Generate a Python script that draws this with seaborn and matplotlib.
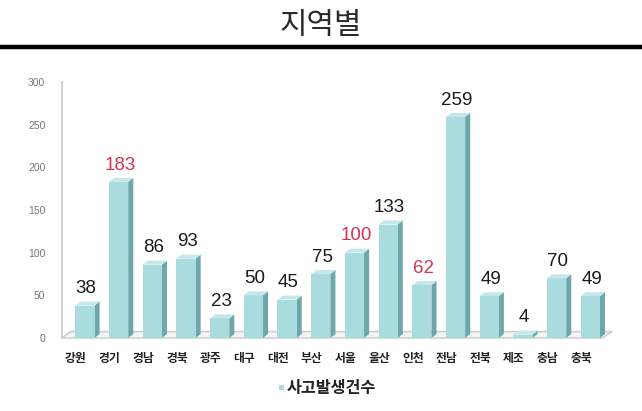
import matplotlib
matplotlib.use("Agg")
import matplotlib.pyplot as plt
import seaborn as sns
import pandas as pd
from matplotlib.patches import Polygon, Rectangle
from matplotlib.lines import Line2D

regions = ["강원", "경기", "경남", "경북", "광주", "대구", "대전", "부산",
           "서울", "울산", "인천", "전남", "전북", "제조", "충남", "충북"]
counts = [38, 183, 86, 93, 23, 50, 45, 75, 100, 133, 62, 259, 49, 4, 70, 49]
highlight = ["경기", "서울", "인천"]
yticks = [0, 50, 100, 150, 200, 250, 300]
series_name = "사고발생건수"
title = "지역별"

sns.set_theme(style="white")
plt.rcParams['font.family'] = ['Noto Sans CJK KR', 'DejaVu Sans']

df = pd.DataFrame({"region": regions, "count": counts})

fig = plt.figure(figsize=(6.42, 4.11), dpi=100)
ax = fig.add_axes([0.0966, 0.1776, 0.857, 0.6229])

front = "#a9dbdf"
side = "#6ea7ab"
top = "#c4e8ea"

sns.barplot(data=df, x="region", y="count", color=front, width=0.57,
            saturation=1, ax=ax, zorder=3, edgecolor="none")

ax.set_ylim(0, 300)
ax.set_xlim(-0.68, 15.65)

dx = 0.15
dy = 4.7
for p in list(ax.patches):
    x, w, h = p.get_x(), p.get_width(), p.get_height()
    ax.add_patch(Polygon([(x + w, 0), (x + w + dx, dy), (x + w + dx, h + dy), (x + w, h)],
                         closed=True, facecolor=side, edgecolor="none", zorder=2.9))
    ax.add_patch(Polygon([(x, h), (x + w, h), (x + w + dx, h + dy), (x + dx, h + dy)],
                         closed=True, facecolor=top, edgecolor="none", zorder=3.1))

# floor
x0, x1 = ax.get_xlim()
ax.add_patch(Polygon([(x0, 0), (15.35, 0), (15.65, 7.5), (x0 + 0.25, 7.5)],
                     closed=True, facecolor="#f2f4f4", edgecolor="#c8cccc", lw=1.0,
                     zorder=1, clip_on=False))

# value labels
for i, (r, v) in enumerate(zip(regions, counts)):
    c = "#d2364f" if r in highlight else "#1a1a1a"
    ax.text(i + 0.04, v + dy + 5, str(v), ha="center", va="bottom", fontsize=13.5,
            color=c, family=['Liberation Sans', 'DejaVu Sans'], zorder=5)

ax.set_yticks(yticks)
ax.set_yticklabels([str(t) for t in yticks], fontsize=7.5, color="#777777",
                   family=['Liberation Sans', 'DejaVu Sans'])
ax.tick_params(axis="y", length=0, pad=12)
ax.set_xticks([i - 0.27 for i in range(len(regions))])
ax.set_xticklabels(regions)
ax.tick_params(axis="x", length=0, pad=10)
for lab in ax.get_xticklabels():
    lab.set_fontsize(8.5)
    lab.set_fontweight("bold")
    lab.set_color("#222222")
ax.set_xlim(-0.68, 15.65)
ax.set_xlabel("")
ax.set_ylabel("")
for s in ["top", "right", "bottom"]:
    ax.spines[s].set_visible(False)
ax.spines["left"].set_color("#c8c8c8")
ax.spines["left"].set_linewidth(1.2)

# title and rule
fig.text(0.5, 0.938, title, ha="center", va="center", fontsize=21.5, color="#2a2a2a",
         fontweight="normal")
fig.add_artist(Line2D([0, 1], [0.886, 0.886], color="black", lw=3.2,
                      transform=fig.transFigure))

# legend
fig.add_artist(Rectangle((0.435, 0.050), 0.008, 0.013, transform=fig.transFigure,
                         facecolor=front, edgecolor="none"))
fig.text(0.447, 0.057, series_name, ha="left", va="center", fontsize=11.7,
         fontweight="bold", color="#222222")

fig.savefig("out.png", dpi=100)
